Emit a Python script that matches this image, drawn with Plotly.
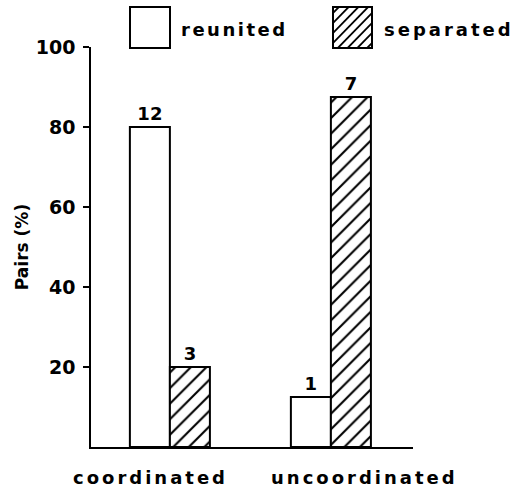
import base64
import plotly.graph_objects as go

categories = ["coordinated", "uncoordinated"]
reunited_pct = [80, 12.5]
separated_pct = [20, 87.5]
reunited_n = [12, 1]
separated_n = [3, 7]
y_ticks = [20, 40, 60, 80, 100]
series_names = ["reunited", "separated"]

FONT = "DejaVu Sans"


def spaced(txt, px):
    return f'<span style="letter-spacing:{px}px">{txt}</span>'


fig = go.Figure()
fig.add_trace(go.Bar(
    x=categories, y=reunited_pct, name=series_names[0],
    text=reunited_n, textposition="outside", cliponaxis=False,
    textfont=dict(family=FONT, size=18, weight="bold", color="black"),
    marker=dict(color="white", line=dict(color="black", width=2)),
))
fig.add_trace(go.Bar(
    x=categories, y=separated_pct, name=series_names[1],
    text=separated_n, textposition="outside", cliponaxis=False,
    textfont=dict(family=FONT, size=18, weight="bold", color="black"),
    marker=dict(color="white", line=dict(color="black", width=2),
                pattern=dict(shape="/", fgcolor="black", bgcolor="white",
                             fgopacity=1, size=11, solidity=0.19)),
))

# hatched legend swatch as small SVG image
lines = "".join(
    f'<line x1="{k}" y1="41" x2="{k+41}" y2="0" stroke="black" stroke-width="1.8"/>'
    for k in range(-45, 45, 10)
)
svg = ('<svg xmlns="http://www.w3.org/2000/svg" width="40" height="41" viewBox="0 0 40 41">'
       '<rect width="40" height="41" fill="white"/>' + lines + '</svg>')
src = "data:image/svg+xml;base64," + base64.b64encode(svg.encode()).decode()

L, R, T, B = 91, 109, 47, 42
W, H = 522, 489
pw, ph = W - L - R, H - T - B


def px_x(x):
    return (x - L) / pw


def px_y(y):
    return (H - B - y) / ph


fig.add_layout_image(dict(source=src, xref="paper", yref="paper",
                          x=px_x(333), y=px_y(7), sizex=px_x(372) - px_x(333),
                          sizey=px_y(7) - px_y(48), sizing="stretch",
                          xanchor="left", yanchor="top", layer="above"))
fig.add_shape(type="rect", xref="paper", yref="paper",
              x0=px_x(130), x1=px_x(170), y0=px_y(48), y1=px_y(7),
              line=dict(color="black", width=2), fillcolor="white")
fig.add_shape(type="rect", xref="paper", yref="paper",
              x0=px_x(333), x1=px_x(372), y0=px_y(48), y1=px_y(7),
              line=dict(color="black", width=2), layer="above")

fig.add_annotation(text=spaced(series_names[0], 2.5), xref="paper", yref="paper",
                   x=px_x(179), y=px_y(29), xanchor="left", yanchor="middle",
                   showarrow=False, font=dict(family=FONT, size=18, weight="bold", color="black"))
fig.add_annotation(text=spaced(series_names[1], 3), xref="paper", yref="paper",
                   x=px_x(382), y=px_y(29), xanchor="left", yanchor="middle",
                   showarrow=False, font=dict(family=FONT, size=18, weight="bold", color="black"))

for cat, shift in zip(categories, [-19, 34]):
    fig.add_annotation(text=spaced(cat, 3), x=cat, y=0, xref="x", yref="y",
                       xanchor="center", yanchor="top", yshift=-18, xshift=shift,
                       showarrow=False,
                       font=dict(family=FONT, size=18, weight="bold", color="black"))

fig.update_layout(
    width=W, height=H,
    margin=dict(l=L, r=R, t=T, b=B, autoexpand=False),
    paper_bgcolor="white", plot_bgcolor="white",
    barmode="group", bargap=0.503, bargroupgap=0,
    showlegend=False,
    font=dict(family=FONT, color="black"),
)
fig.update_xaxes(type="category", range=[-0.49, 1.51], showline=True,
                 linecolor="black", linewidth=2, showticklabels=False,
                 ticks="", showgrid=False, zeroline=False)
fig.update_yaxes(range=[0, 100], tickvals=y_ticks, ticks="outside", ticklen=6,
                 tickwidth=1.5, tickcolor="black", showline=True,
                 linecolor="black", linewidth=1.5, showgrid=False,
                 zeroline=False, automargin=False, ticklabelstandoff=4,
                 tickfont=dict(family=FONT, size=19, weight="bold", color="black"),
                 title=dict(text="Pairs (%)", standoff=3,
                            font=dict(family=FONT, size=17, weight="bold", color="black")))

fig.write_html("out.html", config={"displayModeBar": False},
               post_script="document.body.style.margin='0';")
